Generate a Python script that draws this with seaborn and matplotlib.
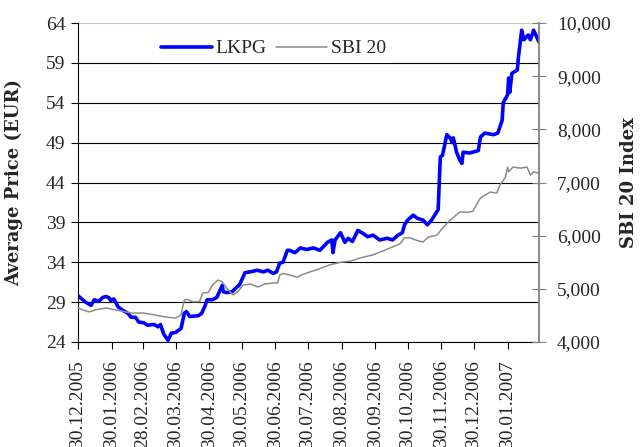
import matplotlib
matplotlib.use("Agg")
import pandas as pd
import numpy as np
import matplotlib.pyplot as plt
import matplotlib.ticker as mticker
import seaborn as sns

# LKPG average price (EUR)
lkpg_dates = [
    "2005-12-30", "2006-01-06", "2006-01-11", "2006-01-14", "2006-01-18", "2006-01-22",
    "2006-01-25", "2006-01-28", "2006-01-29", "2006-02-01", "2006-02-05", "2006-02-09",
    "2006-02-14", "2006-02-17", "2006-02-21", "2006-02-24", "2006-03-01", "2006-03-04",
    "2006-03-10", "2006-03-14", "2006-03-16", "2006-03-19", "2006-03-23", "2006-03-26",
    "2006-03-30", "2006-04-04", "2006-04-07", "2006-04-09", "2006-04-12", "2006-04-20",
    "2006-04-23", "2006-04-26", "2006-04-28", "2006-05-03", "2006-05-07", "2006-05-12",
    "2006-05-13", "2006-05-16", "2006-05-21", "2006-05-24", "2006-05-28", "2006-06-02",
    "2006-06-07", "2006-06-13", "2006-06-19", "2006-06-23", "2006-06-28", "2006-07-01",
    "2006-07-04", "2006-07-07", "2006-07-11", "2006-07-13", "2006-07-18", "2006-07-23",
    "2006-07-29", "2006-08-04", "2006-08-10", "2006-08-17", "2006-08-21", "2006-08-22",
    "2006-08-24", "2006-08-29", "2006-09-02", "2006-09-05", "2006-09-09", "2006-09-14",
    "2006-09-19", "2006-09-23", "2006-09-28", "2006-10-04", "2006-10-11", "2006-10-16",
    "2006-10-21", "2006-10-25", "2006-10-27", "2006-10-30", "2006-11-04", "2006-11-08",
    "2006-11-13", "2006-11-17", "2006-11-21", "2006-11-27", "2006-11-29", "2006-12-01",
    "2006-12-05", "2006-12-08", "2006-12-10", "2006-12-11", "2006-12-14", "2006-12-17",
    "2006-12-19", "2006-12-20", "2006-12-26", "2007-01-03", "2007-01-05", "2007-01-09",
    "2007-01-17", "2007-01-21", "2007-01-25", "2007-01-26", "2007-01-30", "2007-01-31",
    "2007-02-01", "2007-02-03", "2007-02-08", "2007-02-09", "2007-02-12", "2007-02-14",
    "2007-02-18", "2007-02-20", "2007-02-23", "2007-02-26", "2007-02-28",
]
lkpg_price = [
    29.8, 29.0, 28.6, 29.3, 29.1, 29.6,
    29.7, 29.5, 29.2, 29.4, 28.4, 28.0,
    27.6, 27.1, 27.1, 26.5, 26.4, 26.1,
    26.2, 25.9, 26.2, 25.0, 24.2, 25.1,
    25.2, 25.7, 27.6, 27.8, 27.2, 27.3,
    27.6, 28.5, 29.3, 29.3, 29.6, 31.1,
    30.3, 30.2, 30.3, 30.7, 31.2, 32.7,
    32.8, 33.0, 32.8, 33.0, 32.6, 32.8,
    33.9, 34.0, 35.5, 35.5, 35.2, 35.8,
    35.6, 35.8, 35.5, 36.5, 36.8, 35.2,
    36.8, 37.7, 36.5, 37.0, 36.6, 38.0,
    37.6, 37.2, 37.4, 36.8, 37.0, 36.8,
    37.4, 37.7, 38.7, 39.3, 39.9, 39.5,
    39.3, 38.7, 39.3, 40.6, 47.2, 47.4,
    50.0, 49.6, 49.0, 49.6, 47.8, 46.8,
    46.4, 47.8, 47.7, 48.0, 49.7, 50.2,
    50.0, 50.2, 51.8, 54.0, 55.0, 57.1,
    55.3, 57.7, 58.1, 59.7, 63.1, 61.9,
    62.5, 61.9, 63.1, 62.2, 61.6,
]

# SBI 20 index
sbi_dates = [
    "2005-12-30", "2006-01-09", "2006-01-16", "2006-01-25", "2006-02-01", "2006-02-09",
    "2006-02-17", "2006-02-28", "2006-03-09", "2006-03-21", "2006-03-30", "2006-04-04",
    "2006-04-07", "2006-04-10", "2006-04-15", "2006-04-21", "2006-04-24", "2006-04-29",
    "2006-05-03", "2006-05-08", "2006-05-12", "2006-05-16", "2006-05-22", "2006-05-27",
    "2006-05-31", "2006-06-07", "2006-06-14", "2006-06-20", "2006-06-28", "2006-07-02",
    "2006-07-04", "2006-07-07", "2006-07-13", "2006-07-20", "2006-07-24", "2006-08-01",
    "2006-08-10", "2006-08-19", "2006-08-29", "2006-09-07", "2006-09-16", "2006-09-28",
    "2006-10-14", "2006-10-23", "2006-10-27", "2006-11-01", "2006-11-06", "2006-11-13",
    "2006-11-18", "2006-11-26", "2006-12-01", "2006-12-08", "2006-12-17", "2006-12-24",
    "2006-12-29", "2007-01-05", "2007-01-14", "2007-01-20", "2007-01-23", "2007-01-28",
    "2007-01-30", "2007-01-31", "2007-02-04", "2007-02-11", "2007-02-17", "2007-02-20",
    "2007-02-23", "2007-02-27",
]
sbi_index = [
    4640, 4565, 4610, 4640, 4610, 4580,
    4545, 4545, 4515, 4470, 4450, 4510,
    4790, 4800, 4755, 4760, 4920, 4930,
    5070, 5165, 5130, 5015, 4885, 4960,
    5070, 5090, 5035, 5090, 5110, 5110,
    5260, 5290, 5260, 5220, 5260, 5320,
    5380, 5450, 5500, 5520, 5580, 5640,
    5770, 5850, 5960, 5960, 5920, 5880,
    5975, 6010, 6140, 6290, 6445, 6440,
    6460, 6710, 6820, 6800, 6950, 7100,
    7290, 7200, 7290, 7270, 7290, 7140,
    7200, 7180,
]

tick_dates = [
    "2005-12-30", "2006-01-30", "2006-02-28", "2006-03-30", "2006-04-30", "2006-05-30",
    "2006-06-30", "2006-07-30", "2006-08-30", "2006-09-30", "2006-10-30", "2006-11-30",
    "2006-12-30", "2007-01-30",
]
price_ticks = [24, 29, 34, 39, 44, 49, 54, 59, 64]
index_ticks = [4000, 5000, 6000, 7000, 8000, 9000, 10000]

lkpg = pd.DataFrame({"Date": pd.to_datetime(lkpg_dates), "Price": lkpg_price})
sbi = pd.DataFrame({"Date": pd.to_datetime(sbi_dates), "Index": sbi_index})

sns.set_style("white")
plt.rcParams["font.family"] = ["Liberation Serif", "DejaVu Serif"]

fig = plt.figure(figsize=(6.43, 4.47), dpi=100)
ax = fig.add_axes([0.1213, 0.2349, 0.7170, 0.7136])
ax2 = ax.twinx()

sns.lineplot(data=lkpg, x="Date", y="Price", ax=ax, color="#0000FF", linewidth=2.6, legend=False)
sns.lineplot(data=sbi, x="Date", y="Index", ax=ax2, color="#8C8C8C", linewidth=1.1, legend=False)

# axes ranges and ticks
ax.set_xlim(pd.Timestamp("2005-12-30"), pd.Timestamp("2007-02-28"))
ax.set_ylim(24, 64)
ax.set_yticks(price_ticks)
ax2.set_ylim(4000, 10000)
ax2.set_yticks(index_ticks)
ax2.yaxis.set_major_formatter(mticker.FuncFormatter(lambda v, p: f"{v:,.0f}"))

ticks = pd.to_datetime(tick_dates)
ax.set_xticks(ticks)
ax.set_xticklabels([d.strftime("%d.%m.%Y") for d in ticks], rotation=90, va="top", ha="center")

ax.grid(axis="y", color="black", linewidth=0.8)
ax.yaxis.get_gridlines()[-1].set_color("#C8C8C8")

for s in ["top", "right"]:
    ax.spines[s].set_visible(False)
ax.spines["left"].set_color("black")
ax.spines["bottom"].set_color("black")
ax2.spines["top"].set_visible(False)
ax2.spines["left"].set_visible(False)
ax2.spines["bottom"].set_visible(False)
ax2.spines["right"].set_color("#808080")
ax2.spines["right"].set_linewidth(1.3)

ax.tick_params(axis="y", direction="out", length=5, width=0.8, color="black", pad=4, labelsize=14, left=True)
ax.tick_params(axis="x", direction="out", length=5, width=0.8, color="black", pad=8, labelsize=14, bottom=True)
ax2.tick_params(axis="y", direction="inout", length=10, width=0.8, color="#808080", pad=8, labelsize=14, right=True)

ax.set_xlabel("")
ax.set_ylabel("Average Price (EUR)", fontsize=13, fontweight="bold", family="DejaVu Serif")
ax.yaxis.set_label_coords(-0.118, 0.5)
ax2.set_ylabel("SBI 20 Index", fontsize=13, fontweight="bold", family="DejaVu Serif")
ax2.yaxis.set_label_coords(1.175, 0.5)

handles = [ax.lines[0], ax2.lines[0]]
leg = ax2.legend(handles, ["LKPG", "SBI 20"], loc="center", bbox_to_anchor=(0.424, 0.92),
                 ncol=2, frameon=True, facecolor="white", edgecolor="none", framealpha=1,
                 fontsize=14, handlelength=2.6, handletextpad=0.2, columnspacing=0.5,
                 borderpad=0.3, fancybox=False)

fig.savefig("out.png", dpi=100)
